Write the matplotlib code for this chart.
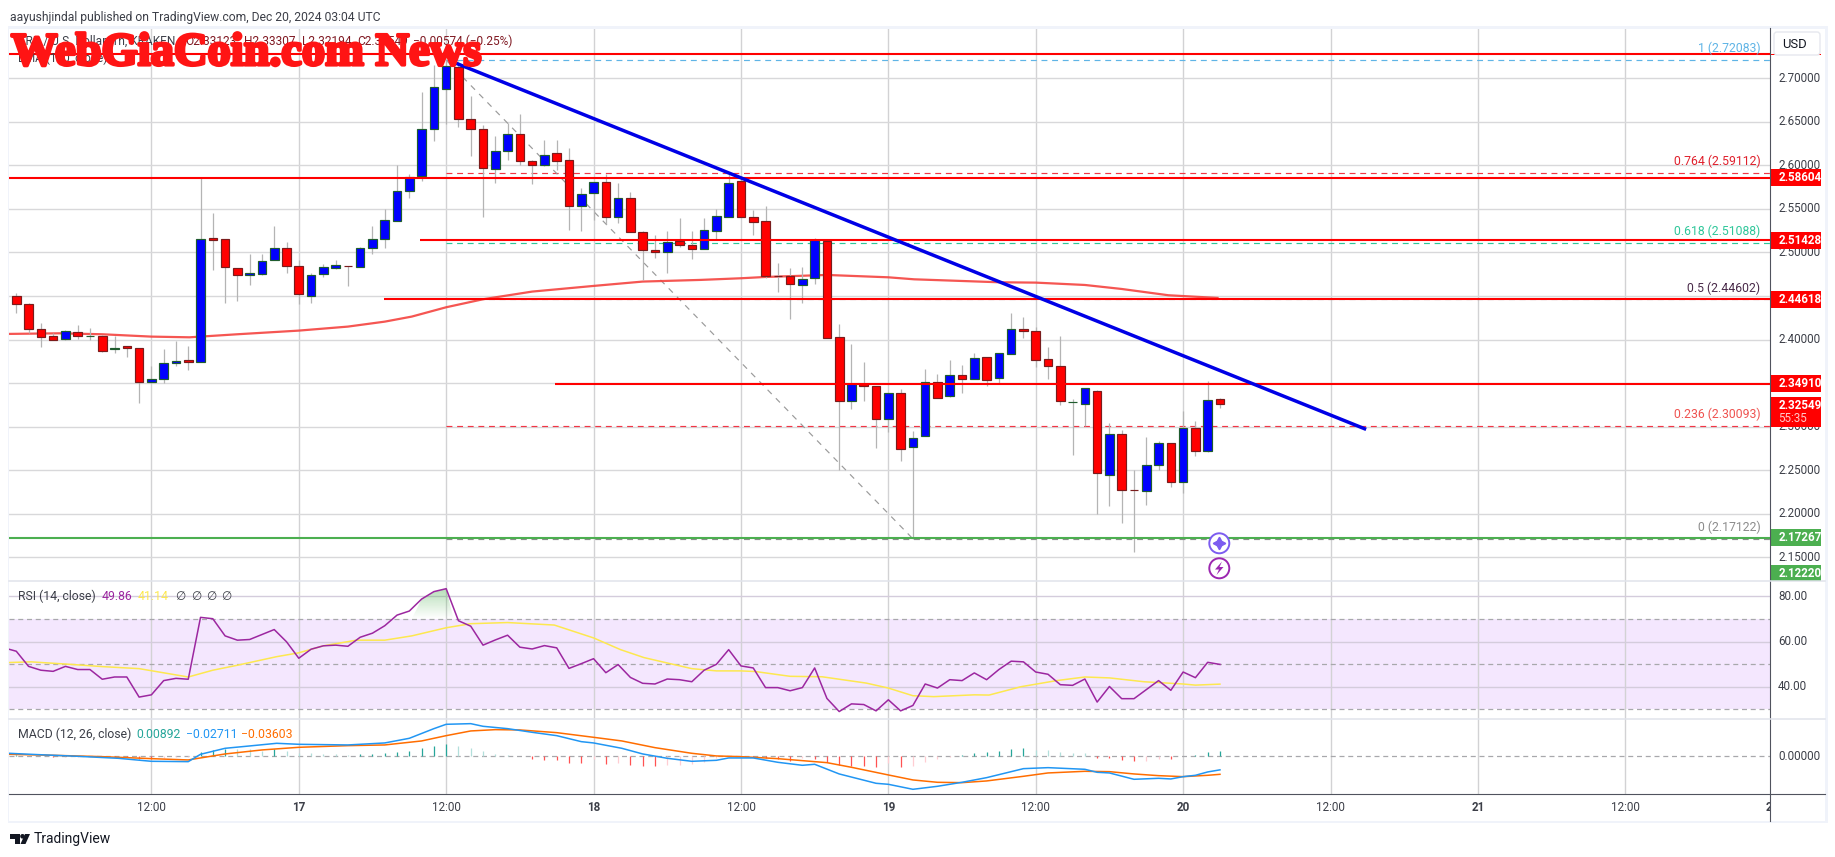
import numpy as np
import matplotlib
matplotlib.use('Agg')
import matplotlib.pyplot as plt
import matplotlib.patheffects as pe
from matplotlib.patches import Rectangle, Circle, Polygon, FancyBboxPatch

# one hourly candle, hours counted from Dec 16 00:00
hours = np.arange(1, 100)
opens = [2.4501, 2.4413, 2.4118, 2.4038, 2.4003, 2.4091, 2.4036, 2.4038, 2.3894, 2.3923,
         2.3900, 2.3510, 2.3544, 2.3728, 2.3762, 2.3739, 2.5163, 2.5152, 2.4819, 2.4738,
         2.4750, 2.4910, 2.5048, 2.4842, 2.4497, 2.4750, 2.4819, 2.4844, 2.4830, 2.5048,
         2.5152, 2.5358, 2.5703, 2.5879, 2.6414, 2.6874, 2.7126, 2.6529, 2.6414, 2.5955,
         2.6162, 2.6357, 2.6047, 2.6001, 2.6139, 2.6059, 2.5530, 2.5680, 2.5806, 2.5404,
         2.5622, 2.5232, 2.5025, 2.5002, 2.5129, 2.5083, 2.5037, 2.5243, 2.5404, 2.5817,
         2.5404, 2.5358, 2.4729, 2.4727, 2.4623, 2.4704, 2.5129, 2.4026, 2.3292, 2.3487,
         2.3464, 2.3085, 2.3383, 2.2764, 2.2890, 2.3510, 2.3349, 2.3590, 2.3544, 2.3797,
         2.3556, 2.3831, 2.4118, 2.4095, 2.3774, 2.3694, 2.3278, 2.3257, 2.3406, 2.2442,
         2.2913, 2.2272, 2.2258, 2.2557, 2.2809, 2.2362, 2.2982, 2.2718, 2.33123]
highs = [2.4532, 2.4417, 2.4195, 2.4072, 2.4111, 2.4168, 2.4130, 2.4053, 2.4042, 2.3923,
         2.3900, 2.3697, 2.3889, 2.3988, 2.3927, 2.5852, 2.5450, 2.5152, 2.4819, 2.4979,
         2.4979, 2.5305, 2.5117, 2.4914, 2.4761, 2.4865, 2.4914, 2.4846, 2.5060, 2.5305,
         2.5496, 2.6001, 2.5898, 2.6843, 2.7153, 2.7208, 2.7203, 2.6797, 2.6464, 2.6338,
         2.6483, 2.6591, 2.6062, 2.6292, 2.6292, 2.6196, 2.5737, 2.5814, 2.5902, 2.5794,
         2.5691, 2.5243, 2.5197, 2.5243, 2.5393, 2.5243, 2.5393, 2.5496, 2.5909, 2.5879,
         2.5488, 2.5530, 2.4876, 2.4819, 2.4830, 2.5163, 2.5137, 2.4180, 2.3950, 2.3743,
         2.3464, 2.3383, 2.3433, 2.2955, 2.3663, 2.3605, 2.3766, 2.3709, 2.3843, 2.3797,
         2.3843, 2.4302, 2.4256, 2.4141, 2.3915, 2.4042, 2.3318, 2.3441, 2.3422, 2.3039,
         2.2963, 2.2500, 2.2882, 2.2836, 2.2809, 2.3181, 2.3062, 2.3521, 2.33307]
lows = [2.4310, 2.4072, 2.3919, 2.3996, 2.3996, 2.4003, 2.3996, 2.3862, 2.3843, 2.3804,
        2.3276, 2.3506, 2.3506, 2.3701, 2.3651, 2.3739, 2.4799, 2.4424, 2.4447, 2.4627,
        2.4742, 2.4910, 2.4769, 2.4413, 2.4424, 2.4723, 2.4807, 2.4620, 2.4830, 2.4983,
        2.5052, 2.5358, 2.5630, 2.5825, 2.6284, 2.6472, 2.6441, 2.6112, 2.5412, 2.5802,
        2.6062, 2.6005, 2.5791, 2.5993, 2.5948, 2.5259, 2.5247, 2.5374, 2.5324, 2.5343,
        2.5232, 2.4685, 2.4937, 2.4769, 2.5060, 2.4930, 2.5037, 2.5152, 2.5404, 2.5404,
        2.5201, 2.4704, 2.4551, 2.4241, 2.4424, 2.4639, 2.4015, 2.2503, 2.3207, 2.3295,
        2.2756, 2.2943, 2.2610, 2.1712, 2.2890, 2.3326, 2.3338, 2.3391, 2.3544, 2.3472,
        2.3498, 2.3831, 2.4023, 2.3690, 2.3552, 2.3250, 2.2679, 2.3005, 2.2002, 2.2094,
        2.1899, 2.1566, 2.2105, 2.2500, 2.2312, 2.2235, 2.2668, 2.2706, 2.32194]
closes = [2.4413, 2.4118, 2.4026, 2.4000, 2.4095, 2.4038, 2.4038, 2.3866, 2.3898, 2.3900,
          2.3510, 2.3544, 2.3728, 2.3751, 2.3739, 2.5152, 2.5140, 2.4830, 2.4738, 2.4761,
          2.4899, 2.5048, 2.4842, 2.4520, 2.4738, 2.4830, 2.4853, 2.4840, 2.5048, 2.5152,
          2.5370, 2.5703, 2.5863, 2.6414, 2.6897, 2.7138, 2.6529, 2.6414, 2.5967, 2.6162,
          2.6357, 2.6047, 2.6001, 2.6116, 2.6047, 2.5530, 2.5668, 2.5806, 2.5404, 2.5622,
          2.5232, 2.5025, 2.5002, 2.5117, 2.5083, 2.5037, 2.5255, 2.5416, 2.5794, 2.5404,
          2.5347, 2.4727, 2.4725, 2.4635, 2.4692, 2.5140, 2.4015, 2.3292, 2.3487, 2.3464,
          2.3085, 2.3383, 2.2741, 2.2867, 2.3510, 2.3326, 2.3590, 2.3544, 2.3785, 2.3533,
          2.3843, 2.4118, 2.4095, 2.3762, 2.3694, 2.3292, 2.3282, 2.3441, 2.2465, 2.2913,
          2.2270, 2.2268, 2.2557, 2.2809, 2.2362, 2.2982, 2.2718, 2.3303, 2.32549]

ema_h = [0.4, 4.5, 8, 12, 15.1, 19, 24, 28, 31, 33.2, 36, 39, 43, 48, 52, 56.7, 60, 62, 67,
         72, 74.1, 81, 84, 88, 91, 94.8, 98.8]
ema_p = [2.4065, 2.4072, 2.4061, 2.4034, 2.4026, 2.4061, 2.4103, 2.4149, 2.4206, 2.4264,
         2.4371, 2.4463, 2.4551, 2.4616, 2.4666, 2.4685, 2.4704, 2.4719, 2.4742, 2.4715,
         2.4692, 2.4658, 2.4654, 2.4627, 2.4581, 2.4509, 2.4478]

# hand drawn levels: price and hour the line starts
level_p = [2.7282, 2.58604, 2.51428, 2.44618, 2.34910]
level_start = [0.4, 0.4, 33.9, 30.9, 44.9]
support = 2.17267

fib_ratio = ['1', '0.764', '0.618', '0.5', '0.236', '0']
fib_p = [2.72083, 2.59112, 2.51088, 2.44602, 2.30093, 2.17122]
fib_col = ['#5fb4e6', '#e0202c', '#2fc79a', '#4a2b4a', '#ef5350', '#8c8c8c']
fib_line = ['#5fb4e6', '#f23645', '#2fc79a', '#9c9c9c', '#f23645', '#8c8c8c']

trend_h = [36.7, 110.9]
trend_p = [2.7179, 2.2969]
diag_h = [36, 74]
diag_p = [2.72083, 2.17122]

rsi_h = np.arange(0, 100)
rsi = [57.2, 55.7, 49.0, 47.3, 46.8, 49.0, 47.6, 47.6, 43.3, 44.3, 44.3, 35.4, 36.4, 42.7, 43.7,
       43.3, 70.7, 70.1, 62.5, 60.6, 60.9, 63.1, 65.3, 59.9, 52.6, 56.6, 58.1, 58.4, 57.9, 61.9,
       63.7, 67.0, 71.7, 73.5, 78.8, 82.1, 83.4, 69.2, 66.8, 58.4, 60.7, 62.8, 57.5, 56.7, 58.2,
       57.2, 48.1, 50.2, 52.4, 46.2, 49.8, 44.1, 41.5, 41.2, 43.4, 43.1, 42.2, 47.3, 49.9, 56.4,
       49.2, 48.3, 39.6, 39.6, 38.2, 39.6, 48.3, 34.8, 29.0, 32.4, 32.1, 29.3, 34.2, 29.3, 31.7,
       41.2, 39.4, 43.1, 42.7, 46.1, 43.1, 47.6, 51.3, 51.0, 46.5, 45.5, 40.9, 40.6, 43.4, 33.2,
       40.1, 34.7, 34.7, 38.7, 42.7, 38.4, 46.5, 44.0, 50.8, 49.86]
rsi_ma_h = [0.4, 2.2, 5.4, 8, 11, 15, 17, 19, 22.2, 24, 26, 28.7, 31, 33.2, 36, 38, 41, 44.8, 48,
            50.2, 52.1, 54, 56, 58, 60, 61.2, 64, 66.6, 70.2, 72, 74, 75.7, 79, 80.2, 82.8, 85.7,
            88, 90, 92.8, 96, 97, 99]
rsi_ma = [50.7, 51.0, 49.9, 48.9, 48.0, 44.3, 47.3, 49.5, 53.3, 55.0, 58.1, 60.6, 60.6, 62.5,
          66.1, 67.9, 68.4, 67.3, 61.6, 56.4, 52.9, 50.5, 48.0, 47.0, 47.0, 46.7, 44.6, 44.4,
          41.6, 39.4, 36.0, 35.6, 36.4, 36.3, 40.0, 42.7, 44.3, 43.9, 42.2, 41.2, 40.7, 41.14]

macd_h = [0.4, 2.8, 6, 9.3, 12, 15, 16, 18, 20, 22.2, 24, 28, 31, 33, 35, 36, 38, 39, 41, 43, 45,
          47, 48, 50.3, 52, 54, 56, 58, 59, 61, 63, 65, 66, 68, 71, 72, 74, 76, 78, 80, 83, 85,
          88, 89, 90, 92, 94, 95, 96, 97, 98, 99]
macd = [.0060, .0033, 0, -.0040, -.0100, -.0107, .0040, .0160, .0207, .0260, .0240, .0227, .0267,
        .0360, .0553, .0640, .0653, .0600, .0553, .0480, .0413, .0293, .0267, .0160, .0047,
        -.0040, -.0100, -.0080, -.0033, -.0033, -.0120, -.0180, -.0160, -.0353, -.0540, -.0560,
        -.0660, -.0600, -.0520, -.0427, -.0247, -.0227, -.0260, -.0320, -.0333, -.0460, -.0440,
        -.0453, -.0407, -.0380, -.0313, -.02711]
signal_h = [0.4, 4, 8, 12, 15, 18, 21, 24, 28, 31, 34, 36, 38, 40, 42, 45, 48, 50.3, 53, 56, 58,
            60, 63, 65, 67, 69, 72, 74, 76, 78, 80, 83, 85, 88, 90, 92, 94, 96, 98, 99]
signal = [.0040, .0020, -.0007, -.0047, -.0073, .0047, .0127, .0180, .0213, .0227, .0307, .0413,
          .0507, .0533, .0527, .0473, .0380, .0307, .0173, .0060, .0007, -.0007, -.0047, -.0087,
          -.0127, -.0220, -.0373, -.0473, -.0520, -.0527, -.0493, -.0400, -.0333, -.0300, -.0307,
          -.0353, -.0387, -.0407, -.0380, -.03603]
hist = [.002, .0015, 0, -.002, -.0015, -.001, -.0005, -.001, -.0015, -.002, -.005, -.006, -.003,
        -.002, -.001, .0087, .0133, .0147, .0145, .014, .0113, .014, .0107, .0067, .0065, .004,
        .0038, .002, .0047, .0048, .0067, .0087, .0107, .0167, .0207, .0247, .0207, .0167, .01,
        .0047, .002, 0, -.0053, -.0073, -.0075, -.0127, -.0128, -.0053, -.0153, -.014, -.0167,
        -.0187, -.0188, -.0167, -.0165, -.0147, -.0107, -.004, -.0007, 0, -.0007, -.004, -.006,
        -.0087, -.004, -.0047, -.012, -.0173, -.0193, -.0194, -.0207, -.014, -.0207, -.0187,
        -.0107, -.006, -.002, .0027, .0067, .0087, .0107, .0147, .0167, .0127, .0125, .0087,
        .0067, .0065, -.0027, -.0028, -.0073, -.0093, -.0087, -.0053, -.0054, 0, .0027, .0087,
        .0107]

price_ticks = np.arange(2.15, 2.701, 0.05)
time_ticks = [12, 24, 36, 48, 60, 72, 84, 96, 108, 120, 132, 144]
time_labels = ['12:00', '17', '12:00', '18', '12:00', '19', '12:00', '20', '12:00', '21', '12:00', '22']

plt.rcParams['font.family'] = ['Roboto', 'DejaVu Sans']
W, H = 1835, 857
GRID = '#d8d8da'
VGRID = '#d2d2d4'
TXT = '#3c3f48'


def pane(x0, y0, x1, y1):
    # pixel box, y measured from the top
    return [x0 / W, 1 - y1 / H, (x1 - x0) / W, (y1 - y0) / H]


fig = plt.figure(figsize=(W / 100, H / 100), dpi=100, facecolor='white')

# pale frame behind the chart
frame = fig.add_axes([0, 0, 1, 1], zorder=0)
frame.set_xlim(0, W)
frame.set_ylim(H, 0)
frame.axis('off')
frame.add_patch(Rectangle((8, 26), 1820, 797, fc='#f0f3fa', ec='none'))
frame.add_patch(Rectangle((9, 29), 1816, 792, fc='white', ec='none'))

ax = fig.add_axes(pane(9, 29, 1769.5, 581), zorder=1)
ax_rsi = fig.add_axes(pane(9, 581, 1769.5, 719), zorder=1, sharex=ax)
ax_macd = fig.add_axes(pane(9, 719, 1769.5, 794.3), zorder=1, sharex=ax)
ax_time = fig.add_axes(pane(9, 794.3, 1769.5, 821), zorder=1, sharex=ax)
scale = fig.add_axes(pane(1769.5, 29, 1825, 581), zorder=2)
scale_rsi = fig.add_axes(pane(1769.5, 581, 1825, 719), zorder=2)
scale_macd = fig.add_axes(pane(1769.5, 719, 1825, 794.3), zorder=2)

for a in [ax, ax_rsi, ax_macd, ax_time, scale, scale_rsi, scale_macd]:
    a.patch.set_alpha(0)
    a.tick_params(left=False, bottom=False, labelleft=False, labelbottom=False)
    for s in a.spines.values():
        s.set_visible(False)

ax.set_xlim(0.407, 143.74)
ax.set_ylim(2.1228, 2.7566)
ax_rsi.set_ylim(25.7, 86.8)
ax_macd.set_ylim(-0.076, 0.0746)
ax_time.set_ylim(0, 1)
for a in [scale, scale_rsi, scale_macd]:
    a.set_xlim(0, 55.5)
scale.set_ylim(ax.get_ylim())
scale_rsi.set_ylim(ax_rsi.get_ylim())
scale_macd.set_ylim(ax_macd.get_ylim())

for a in [ax, ax_rsi, ax_macd]:
    for t in time_ticks:
        a.axvline(t, color=VGRID, lw=1.0, zorder=0.5)
for p in price_ticks:
    ax.axhline(p, color=GRID, lw=1.0, zorder=0.5)

# fib levels under everything else
for p, c in zip(fib_p, fib_line):
    ax.plot([36, 143.74], [p, p], color=c, lw=0.85, dashes=(5, 4), zorder=1)
ax.plot(diag_h, diag_p, color='#9a9a9a', lw=0.85, dashes=(5, 5), zorder=1)

ax.plot(ema_h, ema_p, color='#f4433f', lw=1.6, alpha=0.9, zorder=2)

# candles
o = np.array(opens)
c = np.array(closes)
up = c >= o
ax.vlines(hours, lows, highs, color='#b4b4b4', lw=0.9, zorder=3)
ax.bar(hours[up], (c - o)[up], bottom=o[up], width=0.7, color='#0000ff',
       edgecolor='#1f5c2e', linewidth=0.85, zorder=4)
ax.bar(hours[~up], (o - c)[~up], bottom=c[~up], width=0.7, color='#ff0000',
       edgecolor='#7a1c1c', linewidth=0.85, zorder=4)

for p, s in zip(level_p, level_start):
    ax.plot([s, 143.74], [p, p], color='#ff0000', lw=1.5, zorder=5, solid_capstyle='butt')
ax.plot([0.407, 143.74], [support, support], color='#4caf50', lw=1.5, zorder=5)
ax.plot(trend_h, trend_p, color='#0000e6', lw=2.5, zorder=6, solid_capstyle='butt')

for r, p, col in zip(fib_ratio, fib_p, fib_col):
    ax.annotate('%s (%.5f)' % (r, p), (143.0, p), xytext=(0, 3.5), textcoords='offset points',
                ha='right', va='bottom', color=col, fontsize=8.8, zorder=7)

# RSI pane
ax_rsi.axhspan(30, 70, color='#f4e7fe', lw=0, zorder=0.2)
for v in [40, 60, 80]:
    ax_rsi.axhline(v, color='#d4ccdc', lw=1.0, zorder=0.5)
for v in [30, 50, 70]:
    ax_rsi.axhline(v, color='#a8a8ac', lw=0.9, dashes=(4, 3), zorder=0.6)
grad = np.linspace(0.42, 0, 64)
rgba = np.zeros((64, 1, 4))
rgba[..., 0], rgba[..., 1], rgba[..., 2] = 0.30, 0.69, 0.31
rgba[:, 0, 3] = grad
im = ax_rsi.imshow(rgba, extent=[30, 40, 70, 84], aspect='auto', origin='upper', zorder=1.5)
im.set_clip_path(Polygon(np.column_stack([[33.2, 34, 35, 36, 36.6], [70, 78.8, 82.1, 83.4, 70]]),
                         transform=ax_rsi.transData))
ax_rsi.set_xlim(0.407, 143.74)
ax_rsi.set_ylim(25.7, 86.8)
ax_rsi.plot(rsi_ma_h, rsi_ma, color='#fde84f', lw=1.1, zorder=2)
ax_rsi.plot(rsi_h, rsi, color='#9c27a0', lw=1.1, zorder=3)

# MACD pane
ax_macd.axhline(0, color='#a8a8ac', lw=0.9, dashes=(4, 3), zorder=0.6)
hc = []
prev = 0
for v in hist:
    if v >= 0:
        hc.append('#26a69a' if v >= prev else '#b2dfdb')
    else:
        hc.append('#ffcdd2' if v >= prev else '#ff5252')
    prev = v
ax_macd.vlines(hours, 0, hist, colors=hc, lw=0.9, zorder=1)
ax_macd.plot(signal_h, signal, color='#ff6d00', lw=1.1, zorder=2)
ax_macd.plot(macd_h, macd, color='#2196f3', lw=1.1, zorder=3)

# time scale
for t, lab in zip(time_ticks, time_labels):
    bold = ':' not in lab
    ax_time.text(t, 0.49, lab, ha='center', va='center', fontsize=8.4, color=TXT,
                 fontweight='bold' if bold else 'normal', clip_on=True)

# price scale
for p in price_ticks:
    scale.text(8.7, p, '%.5f' % p, va='center', ha='left', fontsize=8.4, color=TXT)
for v in [40, 60, 80]:
    scale_rsi.text(8.7, v, '%.2f' % v, va='center', ha='left', fontsize=8.4, color=TXT)
scale_macd.text(8.7, 0, '0.00000', va='center', ha='left', fontsize=8.4, color=TXT)

tag_h = 17 / 871
tag_vals = [2.58604, 2.51428, 2.44618, 2.34910, 2.17267, 2.12220]
tag_pos = [2.58604, 2.51428, 2.44618, 2.34910, 2.17267, 2.1310]
tag_cols = ['#ff0000', '#ff0000', '#ff0000', '#ff0000', '#4caf50', '#4caf50']
for v, yy, col in zip(tag_vals, tag_pos, tag_cols):
    scale.add_patch(Rectangle((0, yy - tag_h / 2), 51.5, tag_h, fc=col, ec='none', zorder=3))
    scale.text(8.7, yy, '%.5f' % v, va='center', ha='left', fontsize=8.4, color='white',
               fontweight='bold', zorder=4)
scale.add_patch(Rectangle((0, 2.2995), 51.5, 30 / 871, fc='#ff0000', ec='none', zorder=3))
scale.text(8.7, 2.3247, '2.32549', va='center', ha='left', fontsize=8.4, color='white',
           fontweight='bold', zorder=4)
scale.text(8.7, 2.3095, '55:35', va='center', ha='left', fontsize=8.4, color='#ffc9c9', zorder=4)
scale.add_patch(Rectangle((0, 2.7266), 51.5, 1.6 / 871, fc='#ff0000', ec='none', zorder=3))

# overlay in plain pixels: frame lines, headers, watermark, icons
top = fig.add_axes([0, 0, 1, 1], zorder=5)
top.set_xlim(0, W)
top.set_ylim(H, 0)
top.axis('off')
top.plot([1769.5, 1769.5], [28, 821], color='#50535e', lw=0.8)
top.plot([9, 1825], [794.3, 794.3], color='#50535e', lw=0.8)
top.plot([9, 1825], [581, 581], color='#e0e3eb', lw=1.1)
top.plot([9, 1825], [719, 719], color='#e0e3eb', lw=1.1)

top.add_patch(FancyBboxPatch((1774, 32), 46, 23, boxstyle='round,pad=0,rounding_size=3',
                             fc='white', ec='#e6e8ee', lw=1))
top.text(1794.5, 44, 'USD', ha='center', va='center', fontsize=9.4, color='#131722')

top.text(9.5, 17, 'aayushjindal published on TradingView.com, Dec 20, 2024 03:04 UTC', ha='left',
         va='center', fontsize=8.75, color='#3c3f48')

# symbol legend sits behind the watermark
legend_x = [185, 244, 302, 357, 413]
legend_txt = ['O2.33123', 'H2.33307', 'L2.32194', 'C2.32549', '\u22120.00574 (\u22120.25%)']
top.text(18, 41, 'XRP / U.S. Dollar, 1h, KRAKEN', ha='left', va='center', fontsize=8.6, color='#3c3f48')
for xx, s in zip(legend_x, legend_txt):
    top.text(xx, 41, s, ha='left', va='center', fontsize=8.6, color='#801922')
top.text(18, 58, 'EMA (100, close)', ha='left', va='center', fontsize=8.6, color='#3c3f48')
top.text(11, 54, 'WebGiaCoin.com News', ha='left', va='center', fontsize=33.5, color='#ff1414',
         family='Liberation Serif', fontweight='bold',
         path_effects=[pe.withStroke(linewidth=2.3, foreground='#ff1414')])

top.text(18, 596.7, 'RSI (14, close)', ha='left', va='center', fontsize=8.8, color='#3c3f48')
top.text(102, 596.7, '49.86', ha='left', va='center', fontsize=8.8, color='#9c27a0')
top.text(138, 596.7, '41.14', ha='left', va='center', fontsize=8.8, color='#fde84f')
for xx in [175, 191, 206, 221]:
    top.text(xx, 596.7, '\u2205', ha='left', va='center', fontsize=8.5, color='#3c3f48')
top.text(18, 734.7, 'MACD (12, 26, close)', ha='left', va='center', fontsize=8.8, color='#3c3f48')
top.text(136, 734.7, '0.00892', ha='left', va='center', fontsize=8.8, color='#26a69a')
top.text(186, 734.7, '\u22120.02711', ha='left', va='center', fontsize=8.8, color='#2196f3')
top.text(241, 734.7, '\u22120.03603', ha='left', va='center', fontsize=8.8, color='#ff6d00')

# indicator icons
top.add_patch(Circle((1219.3, 543.3), 10, fc='white', ec='#7c5cf0', lw=1.4, zorder=3))
top.plot([1219.3], [543.3], marker=(4, 1, 0), ms=9, color='#7c5cf0', zorder=4)
top.add_patch(Circle((1219.3, 568.3), 10, fc='white', ec='#9c27b0', lw=1.4, zorder=3))
top.add_patch(Polygon([(1222, 561.5), (1215, 569.5), (1219, 569.5), (1216.5, 575), (1223.5, 567),
                       (1219.5, 567)], fc='#9c27b0', ec='none', zorder=4))

# TradingView logo
top.add_patch(Polygon([(10, 834), (20, 834), (20, 844), (15, 844), (15, 839), (10, 839)], fc='#131722', ec='none'))
top.add_patch(Circle((22.5, 836.3), 2.3, fc='#131722', ec='none'))
top.add_patch(Polygon([(25, 834), (30, 834), (25.5, 844), (20.5, 844)], fc='#131722', ec='none'))
top.text(33.6, 839, 'TradingView', ha='left', va='center', fontsize=10, color='#131722')

fig.savefig('out.png', dpi=100)
